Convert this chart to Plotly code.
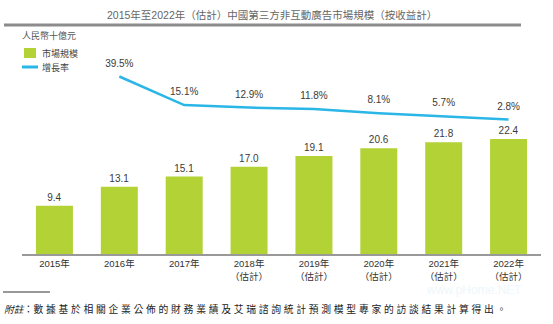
import plotly.graph_objects as go

years = ["2015年", "2016年", "2017年", "2018年<br>（估計）", "2019年<br>（估計）",
         "2020年<br>（估計）", "2021年<br>（估計）", "2022年<br>（估計）"]
market_size = [9.4, 13.1, 15.1, 17.0, 19.1, 20.6, 21.8, 22.4]
growth_years = [1, 2, 3, 4, 5, 6, 7]
growth_rate = [39.5, 15.1, 12.9, 11.8, 8.1, 5.7, 2.8]

FONT = "Liberation Sans, Arial, Noto Sans CJK TC, sans-serif"
W, H = 553, 324
GREEN = "#b2d235"
BLUE = "#2bb6e8"

def px_x(x):
    return x / W

def px_y(y):
    return 1 - y / H

fig = go.Figure()
fig.add_trace(go.Bar(
    x=list(range(len(years))), y=market_size,
    marker=dict(color=GREEN, line=dict(width=0)),
    width=0.57,
    text=[f"{v:.1f}" for v in market_size],
    textposition="outside",
    textfont=dict(size=10, color="#3a3a3a", family=FONT),
    cliponaxis=False,
    xaxis="x", yaxis="y",
    showlegend=False,
))
fig.add_trace(go.Scatter(
    x=growth_years, y=growth_rate,
    mode="lines+markers+text",
    line=dict(color=BLUE, width=2.5),
    marker=dict(size=10, color="rgba(0,0,0,0)", line=dict(width=0)),
    text=[f"{v:.1f}%" for v in growth_rate],
    textposition="top center",
    textfont=dict(size=10, color="#3a3a3a", family=FONT),
    cliponaxis=False,
    xaxis="x", yaxis="y2",
    showlegend=False,
))

fig.update_layout(
    width=W, height=H,
    margin=dict(l=0, r=0, t=0, b=0),
    paper_bgcolor="white", plot_bgcolor="white",
    font=dict(family=FONT, color="#444"),
    xaxis=dict(
        domain=[px_x(22), px_x(541)],
        range=[-0.5, 7.5],
        tickvals=list(range(len(years))), ticktext=years,
        tickfont=dict(size=9.5, color="#333", family=FONT),
        showgrid=False, zeroline=False,
        showline=True, linecolor="#999", linewidth=2,
        ticks="", anchor="y",
    ),
    yaxis=dict(
        domain=[px_y(254), px_y(130)],
        range=[0, (254 - 130) / 5.13],
        visible=False, showgrid=False, zeroline=False,
    ),
    yaxis2=dict(
        domain=[px_y(122.7), px_y(70)],
        range=[0, (122.7 - 70) / 1.17],
        visible=False, showgrid=False, zeroline=False,
        anchor="x",
    ),
)

shapes = []
# title underline
shapes.append(dict(type="line", xref="paper", yref="paper",
                   x0=px_x(4), x1=px_x(521), y0=px_y(25), y1=px_y(25),
                   line=dict(color="#8c8c8c", width=3)))
# legend swatches
shapes.append(dict(type="rect", xref="paper", yref="paper",
                   x0=px_x(24), x1=px_x(36), y0=px_y(58), y1=px_y(48),
                   fillcolor=GREEN, line=dict(width=0)))
shapes.append(dict(type="line", xref="paper", yref="paper",
                   x0=px_x(22), x1=px_x(38), y0=px_y(67), y1=px_y(67),
                   line=dict(color=BLUE, width=3)))
# footnote rule
shapes.append(dict(type="line", xref="paper", yref="paper",
                   x0=px_x(3), x1=px_x(50), y0=px_y(292), y1=px_y(292),
                   line=dict(color="#333", width=1)))
fig.update_layout(shapes=shapes)

def ann(text, x, y, size, color="#444", xanchor="left"):
    return dict(text=text, xref="paper", yref="paper", x=px_x(x), y=px_y(y),
                xanchor=xanchor, yanchor="middle", showarrow=False,
                font=dict(size=size, color=color, family=FONT))

footnote = "<i>附註</i>：" + " ".join("數據基於相關企業公佈的財務業績及艾瑞諮詢統計預測模型專家的訪談結果計算得出。")
annotations = [
    ann("2015年至2022年（估計）中國第三方非互動廣告市場規模（按收益計）", 272, 15, 10.5, "#666", "center"),
    ann("人民幣十億元", 20, 35, 9, "#555"),
    ann("市場規模", 40, 53, 9, "#444"),
    ann("增長率", 40, 67, 9, "#444"),
    ann(footnote, 2, 309, 9.8, "#222"),
    ann("www.pHome.NET", 474, 290, 12, "#eef7fb", "center"),
]
fig.update_layout(annotations=annotations)

fig.write_html("out.html")
